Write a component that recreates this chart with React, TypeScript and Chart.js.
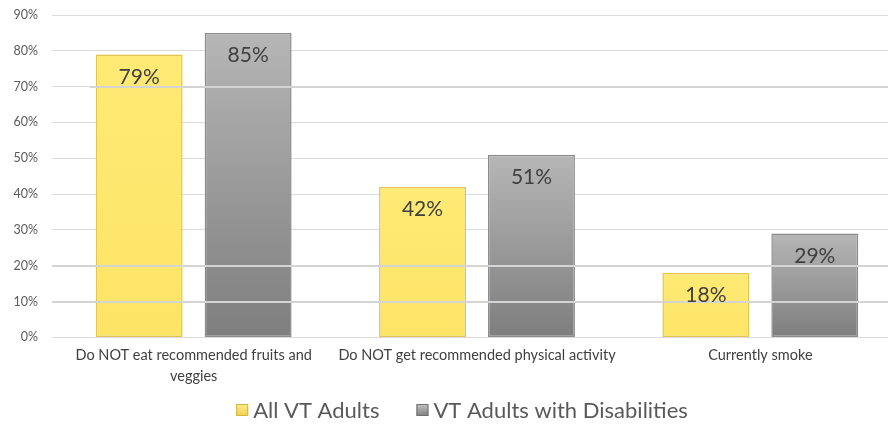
import React, { useEffect, useRef } from "react";
import { Chart, registerables } from "chart.js";

Chart.register(...registerables);

const categories: (string | string[])[] = [
  ["Do NOT eat recommended fruits and", "veggies"],
  "Do NOT get recommended physical activity",
  "Currently smoke",
];
const allAdults = [0.79, 0.42, 0.18];
const withDisabilities = [0.85, 0.51, 0.29];
const seriesNames = ["All VT Adults", "VT Adults with Disabilities"];
const overlayGridValues = [0.1, 0.2, 0.7];

const FONT = "Lato, 'Open Sans', sans-serif";

function makeGradient(chart: any, value: number, top: string, bottom: string, solid: string) {
  const yScale = chart.scales?.y;
  if (!yScale || !chart.chartArea) return solid;
  const y0 = yScale.getPixelForValue(0);
  const y1 = yScale.getPixelForValue(value);
  if (!isFinite(y0) || !isFinite(y1) || y0 === y1) return solid;
  const g = chart.ctx.createLinearGradient(0, y1, 0, y0);
  g.addColorStop(0, top);
  g.addColorStop(1, bottom);
  return g;
}

export default function App() {
  const ref = useRef<HTMLCanvasElement | null>(null);

  useEffect(() => {
    if (!ref.current) return;

    const overlayPlugin = {
      id: "overlayGrid",
      afterDatasetsDraw(chart: any) {
        const { ctx, chartArea, scales } = chart;
        ctx.save();
        ctx.strokeStyle = "#D4D4D4";
        ctx.lineWidth = 2;
        overlayGridValues.forEach((v) => {
          const y = Math.round(scales.y.getPixelForValue(v));
          ctx.beginPath();
          const startX = v > 0.5 ? scales.x.getPixelForValue(0) - 104 : chartArea.left;
          ctx.moveTo(startX, y);
          ctx.lineTo(chartArea.right, y);
          ctx.stroke();
        });
        ctx.restore();
      },
    };

    const labelPlugin = {
      id: "barLabels",
      afterDatasetsDraw(chart: any) {
        const { ctx } = chart;
        ctx.save();
        ctx.font = `21px ${FONT}`;
        ctx.fillStyle = "#404040";
        ctx.textAlign = "center";
        ctx.textBaseline = "top";
        chart.data.datasets.forEach((ds: any, i: number) => {
          const meta = chart.getDatasetMeta(i);
          meta.data.forEach((bar: any, j: number) => {
            const v = ds.data[j] as number;
            ctx.fillText(Math.round(v * 100) + "%", bar.x, bar.y + 12);
          });
        });
        ctx.restore();
      },
    };

    const legendPlugin = {
      id: "customLegend",
      afterDraw(chart: any) {
        const { ctx } = chart;
        ctx.save();
        ctx.font = `22px ${FONT}`;
        ctx.textBaseline = "middle";
        ctx.textAlign = "left";
        const box = 12;
        const gap = 5;
        const spacing = 37;
        const widths = seriesNames.map((s) => ctx.measureText(s).width);
        const total = widths.reduce((a, w) => a + box + gap + w, 0) + spacing * (seriesNames.length - 1);
        let x = 462 - total / 2;
        const cy = 410;
        const colors = [
          ["#FFEE8A", "#EFD050", "#D4B440"],
          ["#C4C4C4", "#7E7E7E", "#707070"],
        ];
        seriesNames.forEach((s, i) => {
          const g = ctx.createLinearGradient(0, cy - box / 2, 0, cy + box / 2);
          g.addColorStop(0, colors[i][0]);
          g.addColorStop(1, colors[i][1]);
          ctx.fillStyle = g;
          ctx.fillRect(x, cy - box / 2, box, box);
          ctx.strokeStyle = colors[i][2];
          ctx.lineWidth = 1;
          ctx.strokeRect(x + 0.5, cy - box / 2 + 0.5, box - 1, box - 1);
          ctx.fillStyle = "#595959";
          ctx.fillText(s, x + box + gap, cy + 1);
          x += box + gap + widths[i] + spacing;
        });
        ctx.restore();
      },
    };

    const chart = new Chart(ref.current, {
      type: "bar",
      data: {
        labels: categories,
        datasets: [
          {
            label: seriesNames[0],
            data: allAdults,
            backgroundColor: (c: any) =>
              makeGradient(c.chart, c.raw ?? 0.5, "#FFEA74", "#FCE466", "#FFE870"),
            borderColor: "#E3C451",
            borderWidth: 1.5,
            borderSkipped: false,
          },
          {
            label: seriesNames[1],
            data: withDisabilities,
            backgroundColor: (c: any) =>
              makeGradient(c.chart, c.raw ?? 0.5, "#B6B6B6", "#7E7E7E", "#A0A0A0"),
            borderColor: "#8C8C8C",
            borderWidth: 1.5,
            borderSkipped: false,
          },
        ],
      },
      options: {
        responsive: false,
        animation: false,
        layout: { padding: { left: 0, right: 0, top: 15, bottom: 38 } },
        datasets: {
          bar: { categoryPercentage: 0.769, barPercentage: 0.798 },
        },
        scales: {
          x: {
            grid: { display: false },
            border: { display: false },
            ticks: {
              color: "#404040",
              font: { family: FONT, size: 14.5, lineHeight: 1.4 },
              padding: 0,
              maxRotation: 0,
              autoSkip: false,
            },
          },
          y: {
            min: 0,
            max: 0.9,
            afterFit: (s: any) => {
              s.width = 52;
              s.paddingTop = 0;
              s.paddingBottom = 0;
            },
            grid: { color: "#DCDCDC", lineWidth: 1, drawTicks: false },
            border: { display: false },
            ticks: {
              stepSize: 0.1,
              padding: 14,
              color: "#595959",
              font: { family: FONT, size: 12.5 },
              callback: (v: any) => Math.round(Number(v) * 100) + "%",
            },
          },
        },
        plugins: {
          legend: { display: false },
          tooltip: { enabled: false },
        },
      },
      plugins: [overlayPlugin, labelPlugin, legendPlugin],
    } as any);

    return () => chart.destroy();
  }, []);

  return (
    <div style={{ position: "absolute", left: 0, top: 0, width: 888, height: 424, overflow: "hidden", background: "#fff" }}>
      <canvas ref={ref} width={902} height={424} style={{ width: 902, height: 424, display: "block" }} />
    </div>
  );
}
